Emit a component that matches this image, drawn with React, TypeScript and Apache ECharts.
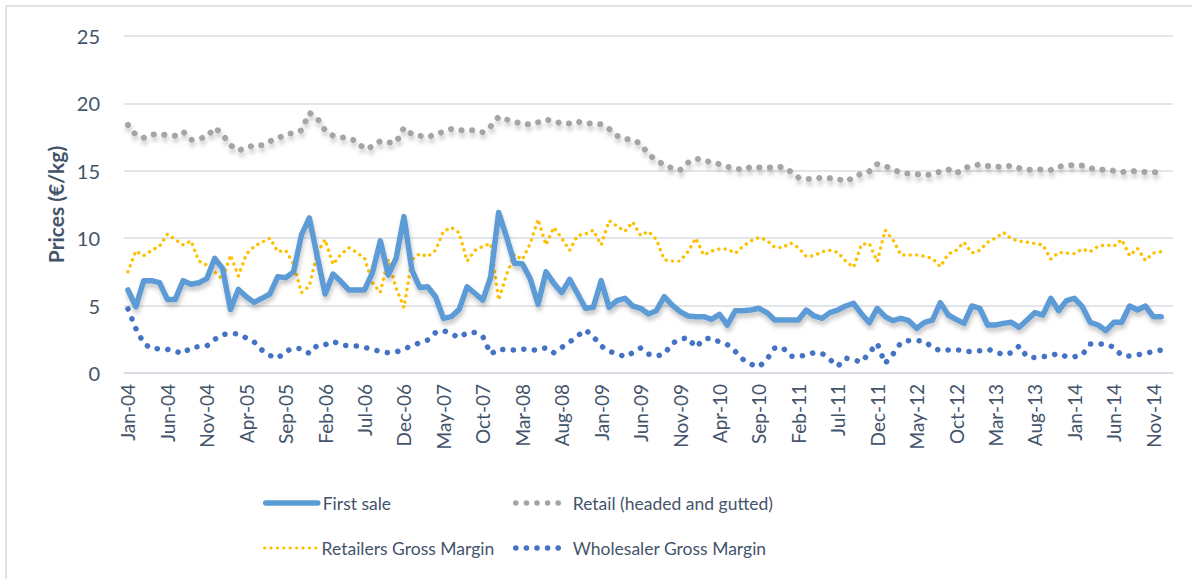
import React, { useEffect, useRef } from "react";
import * as echarts from "echarts";

const MONTHS = ["Jan", "Feb", "Mar", "Apr", "May", "Jun", "Jul", "Aug", "Sep", "Oct", "Nov", "Dec"];
const YEARS = ["04", "05", "06", "07", "08", "09", "10", "11", "12", "13", "14", "15"];
const categories: string[] = [];
YEARS.forEach((y) => MONTHS.forEach((m) => categories.push(`${m}-${y}`)));
categories.splice(133); // Jan-04 .. Jan-15

const firstSale = [
  6.16, 4.92, 6.85, 6.85, 6.7, 5.46, 5.46, 6.85, 6.58, 6.7, 7.0, 8.5, 7.76, 4.72, 6.2, 5.66, 5.24, 5.54, 5.86, 7.15, 7.07, 7.5, 10.24, 11.5,
  8.65, 5.86, 7.34, 6.78, 6.16, 6.16, 6.16, 7.44, 9.8, 7.27, 8.5, 11.6, 7.64, 6.35, 6.4, 5.66, 4.05, 4.18, 4.72, 6.4, 5.9, 5.4, 7.15, 11.9,
  10.1, 8.14, 8.1, 7.0, 5.1, 7.5, 6.65, 5.96, 6.95, 5.9, 4.8, 4.87, 6.85, 4.87, 5.37, 5.54, 4.97, 4.8, 4.38, 4.62, 5.66, 5.04, 4.55, 4.23,
  4.18, 4.18, 3.98, 4.35, 3.56, 4.62, 4.62, 4.67, 4.8, 4.48, 3.93, 3.93, 3.93, 3.93, 4.67, 4.23, 4.05, 4.48, 4.67, 4.97, 5.17, 4.38, 3.73, 4.8,
  4.18, 3.88, 4.05, 3.88, 3.31, 3.76, 3.93, 5.22, 4.3, 3.98, 3.68, 4.97, 4.8, 3.56, 3.56, 3.68, 3.76, 3.39, 3.93, 4.48, 4.3, 5.54, 4.62, 5.37,
  5.54, 4.92, 3.76, 3.56, 3.14, 3.76, 3.76, 4.97, 4.67, 4.97, 4.18, 4.18,
];

const retail = [
  18.4, 17.65, 17.45, 17.7, 17.7, 17.66, 17.6, 17.9, 17.3, 17.4, 17.5, 18.2, 17.7, 16.9, 16.5, 16.7, 16.9, 16.9, 17.2, 17.4, 17.7, 17.8, 18.0, 19.3,
  18.9, 18.0, 17.6, 17.5, 17.4, 17.2, 16.6, 16.8, 17.2, 17.1, 17.1, 18.2, 17.7, 17.6, 17.5, 17.7, 17.9, 18.1, 18.0, 18.0, 18.0, 17.85, 18.3, 19.0,
  18.8, 18.65, 18.45, 18.45, 18.6, 18.8, 18.7, 18.5, 18.5, 18.65, 18.5, 18.5, 18.45, 18.1, 17.6, 17.35, 17.3, 17.0, 16.2, 15.8, 15.4, 15.2, 15.05, 15.6,
  15.9, 15.8, 15.6, 15.5, 15.3, 15.2, 15.05, 15.3, 15.25, 15.23, 15.25, 15.3, 14.95, 14.5, 14.4, 14.4, 14.5, 14.45, 14.4, 14.2, 14.5, 14.8, 14.95, 15.5,
  15.35, 15.1, 14.85, 14.78, 14.75, 14.7, 14.72, 14.95, 15.1, 14.8, 15.2, 15.35, 15.48, 15.35, 15.3, 15.3, 15.38, 15.2, 15.06, 15.1, 15.1, 15.06, 15.3, 15.4,
  15.43, 15.38, 15.2, 15.06, 15.1, 15.0, 14.9, 15.0, 14.95, 14.9, 14.9, 14.9,
];

const retailersMargin = [
  7.5, 9.05, 8.7, 9.1, 9.4, 10.3, 9.9, 9.5, 9.8, 8.3, 8.0, 7.5, 6.95, 8.75, 7.2, 8.8, 9.4, 9.7, 10.0, 9.0, 9.1, 8.1, 5.96, 6.45,
  8.9, 9.9, 8.06, 8.8, 9.3, 8.95, 8.5, 6.7, 5.98, 8.43, 6.3, 4.85, 8.4, 8.85, 8.63, 9.1, 10.5, 10.8, 10.4, 8.3, 9.1, 9.4, 9.6, 5.4,
  7.3, 8.8, 8.4, 9.6, 11.4, 9.5, 10.8, 10.0, 9.1, 10.2, 10.3, 10.6, 9.5, 11.3, 10.9, 10.5, 11.2, 10.2, 10.5, 9.9, 8.4, 8.3, 8.3, 9.0,
  10.0, 8.75, 9.05, 9.2, 9.2, 8.88, 9.4, 9.8, 10.05, 9.85, 9.32, 9.3, 9.65, 9.3, 8.65, 8.7, 9.0, 9.1, 8.95, 8.3, 7.84, 9.55, 9.6, 8.26,
  10.6, 9.87, 8.75, 8.75, 8.75, 8.65, 8.5, 7.89, 8.83, 9.1, 9.7, 8.9, 9.1, 9.7, 10.0, 10.43, 9.95, 9.78, 9.7, 9.6, 9.5, 8.45, 8.95, 8.9,
  8.85, 9.2, 9.0, 9.4, 9.5, 9.4, 9.9, 8.7, 9.25, 8.35, 8.9, 9.0,
];

const wholesalerMargin = [
  4.75, 3.3, 2.2, 1.8, 1.8, 1.75, 1.6, 1.45, 1.9, 1.95, 2.0, 2.5, 2.85, 2.95, 2.9, 2.6, 2.3, 1.7, 1.3, 1.1, 1.6, 1.85, 1.8, 1.45,
  2.05, 2.1, 2.35, 2.1, 2.0, 2.0, 1.9, 1.75, 1.6, 1.5, 1.55, 1.8, 2.0, 2.25, 2.45, 3.0, 3.15, 2.9, 2.62, 3.0, 3.0, 2.7, 1.4, 1.78,
  1.7, 1.7, 1.78, 1.7, 1.7, 1.88, 1.5, 1.9, 2.3, 2.75, 3.2, 2.7, 2.0, 1.6, 1.45, 1.2, 1.5, 1.85, 1.4, 1.25, 1.4, 2.2, 2.5, 2.62,
  1.9, 2.5, 2.6, 2.3, 2.1, 1.6, 1.0, 0.65, 0.45, 1.0, 1.85, 1.9, 1.25, 1.2, 1.35, 1.5, 1.45, 1.0, 0.5, 1.1, 1.0, 0.8, 1.5, 2.2,
  0.7, 1.4, 2.25, 2.4, 2.4, 2.35, 1.9, 1.65, 1.7, 1.75, 1.6, 1.6, 1.65, 1.75, 1.6, 1.34, 1.5, 2.0, 1.2, 1.15, 1.2, 1.3, 1.45, 1.2,
  1.2, 1.35, 2.15, 2.15, 2.15, 1.9, 1.3, 1.25, 1.35, 1.45, 1.6, 1.7,
];

const SERIES_NAMES = ["First sale", "Retail (headed and gutted)", "Retailers Gross Margin", "Wholesaler Gross Margin"];
const Y_TICKS = [0, 5, 10, 15, 20, 25];

const TEXT = "#44546A";
const GRID = "#D9DDE3";
const FONT = "Lato, 'Noto Sans', sans-serif";

const C_FIRST = "#5B9BD5";
const C_RETAIL = "#A5A5A5";
const C_RGM = "#FFC000";
const C_WGM = "#4472C4";

const RETAIL_DASH = [0.1, 10.5];
const RGM_DASH = [0.1, 6.3];
const WGM_DASH = [0.1, 10.5];

export default function App() {
  const ref = useRef<HTMLDivElement>(null);
  useEffect(() => {
    if (!ref.current) return;
    const chart = echarts.init(ref.current, undefined, { renderer: "svg" });
    const shadow = { shadowColor: "rgba(0,0,0,0.22)", shadowBlur: 4, shadowOffsetX: 1, shadowOffsetY: 4 };
    const legendBase = {
      orient: "horizontal" as const,
      padding: 0,
      itemWidth: 52,
      itemHeight: 14,
      itemStyle: { opacity: 0 },
      textStyle: { color: TEXT, fontSize: 17.5, fontFamily: FONT },
      selectedMode: false,
    };
    chart.setOption({
      animation: false,
      backgroundColor: "#fff",
      textStyle: { fontFamily: FONT },
      grid: { left: 124, right: 19, top: 36, bottom: 206, containLabel: false },
      graphic: [
        { type: "line", shape: { x1: 6, y1: 6, x2: 1192, y2: 6 }, style: { stroke: "#D9D9D9", lineWidth: 1.5 } },
        { type: "line", shape: { x1: 6, y1: 6, x2: 6, y2: 579 }, style: { stroke: "#D9D9D9", lineWidth: 1.5 } },
      ],
      legend: [
        { ...legendBase, data: [SERIES_NAMES[0]], left: 263, top: 494, lineStyle: { color: C_FIRST, width: 5.5, cap: "round" } },
        { ...legendBase, data: [SERIES_NAMES[1]], left: 513, top: 494, lineStyle: { color: C_RETAIL, width: 5.5, type: RETAIL_DASH, cap: "round" } },
        { ...legendBase, data: [SERIES_NAMES[2]], left: 263, top: 539, lineStyle: { color: C_RGM, width: 3.2, type: RGM_DASH, cap: "round" } },
        { ...legendBase, data: [SERIES_NAMES[3]], left: 513, top: 539, lineStyle: { color: C_WGM, width: 5.5, type: WGM_DASH, cap: "round" } },
      ],
      xAxis: {
        type: "category",
        data: categories,
        boundaryGap: true,
        axisLine: { lineStyle: { color: GRID, width: 1.5 } },
        axisTick: { interval: 4, length: 7, lineStyle: { color: GRID, width: 1.5 } },
        axisLabel: { interval: 4, rotate: 90, margin: 11, color: TEXT, fontSize: 19, fontFamily: FONT },
        splitLine: { show: false },
      },
      yAxis: {
        type: "value",
        min: Y_TICKS[0],
        max: Y_TICKS[Y_TICKS.length - 1],
        interval: 5,
        name: "Prices (€/kg)",
        nameLocation: "middle",
        nameGap: 58,
        nameRotate: 90,
        nameTextStyle: { color: TEXT, fontSize: 21, fontWeight: "bold", fontFamily: FONT },
        axisLine: { show: false },
        axisTick: { show: false },
        axisLabel: { color: TEXT, fontSize: 20, margin: 24, fontFamily: FONT },
        splitLine: { lineStyle: { color: GRID, width: 1.5 } },
      },
      series: [
        {
          name: SERIES_NAMES[1],
          type: "line",
          data: retail,
          symbol: "none",
          z: 2,
          lineStyle: { color: C_RETAIL, width: 6, type: RETAIL_DASH, cap: "round", ...shadow },
          itemStyle: { color: C_RETAIL },
        },
        {
          name: SERIES_NAMES[2],
          type: "line",
          data: retailersMargin,
          symbol: "none",
          z: 3,
          lineStyle: { color: C_RGM, width: 3.4, type: RGM_DASH, cap: "round" },
          itemStyle: { color: C_RGM },
        },
        {
          name: SERIES_NAMES[3],
          type: "line",
          data: wholesalerMargin,
          symbol: "none",
          z: 3,
          lineStyle: { color: C_WGM, width: 5.5, type: WGM_DASH, cap: "round" },
          itemStyle: { color: C_WGM },
        },
        {
          name: SERIES_NAMES[0],
          type: "line",
          data: firstSale,
          symbol: "none",
          z: 4,
          lineStyle: { color: C_FIRST, width: 5.5, join: "round", cap: "round", ...shadow },
          itemStyle: { color: C_FIRST },
        },
      ],
    });
    return () => chart.dispose();
  }, []);
  return <div ref={ref} style={{ position: "fixed", left: 0, top: 0, width: 1192, height: 579 }} />;
}
